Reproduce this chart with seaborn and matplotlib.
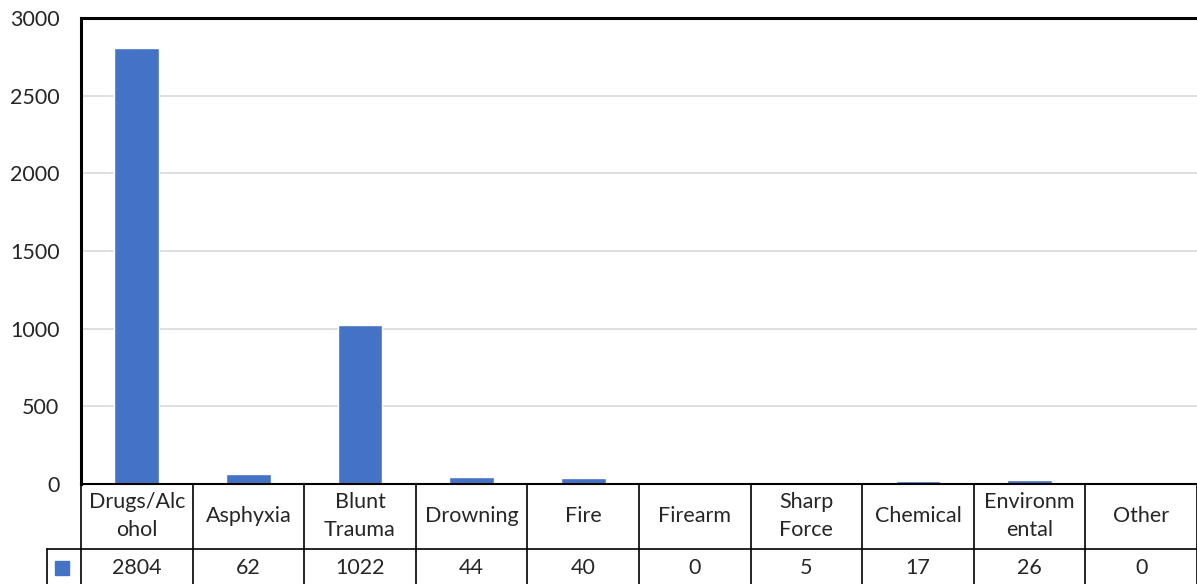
import matplotlib
matplotlib.use("Agg")
import matplotlib.pyplot as plt
import matplotlib.transforms as mtransforms
import pandas as pd
import seaborn as sns

categories = ["Drugs/Alcohol", "Asphyxia", "Blunt Trauma", "Drowning", "Fire",
              "Firearm", "Sharp Force", "Chemical", "Environmental", "Other"]
header_labels = ["Drugs/Alc\nohol", "Asphyxia", "Blunt\nTrauma", "Drowning",
                 "Fire", "Firearm", "Sharp\nForce", "Chemical",
                 "Environm\nental", "Other"]
counts = [2804, 62, 1022, 44, 40, 0, 5, 17, 26, 0]
y_ticks = [0, 500, 1000, 1500, 2000, 2500, 3000]

BLUE = "#4472C4"
FS = 15.5

sns.set_style("white")
plt.rcParams["font.family"] = ["Lato", "DejaVu Sans"]


def main():
    df = pd.DataFrame({"cause": categories, "count": counts})

    fig = plt.figure(figsize=(11.97, 5.84), dpi=100)
    ax = fig.add_axes([81 / 1197, 1 - 484 / 584, 1 - 81 / 1197, 466 / 584])

    sns.barplot(data=df, x="cause", y="count", color=BLUE, width=0.4,
                saturation=1, ax=ax)

    ax.set_xlim(-0.5, len(categories) - 0.5)
    ax.set_ylim(0, 3000)
    ax.set_yticks(y_ticks)
    ax.tick_params(axis="y", length=0, pad=15.5, labelsize=FS)
    ax.set_xticks([])
    ax.set_xlabel("")
    ax.set_ylabel("")
    ax.yaxis.grid(True, color="#d9d9d9", linewidth=1.2)
    ax.set_axisbelow(True)

    for side in ["left", "top"]:
        ax.spines[side].set_color("black")
        ax.spines[side].set_linewidth(2.2)
    ax.spines["bottom"].set_color("black")
    ax.spines["bottom"].set_linewidth(1.5)
    ax.spines["right"].set_visible(False)

    # data table below the axis
    trans = mtransforms.blended_transform_factory(ax.transData, ax.transAxes)
    hdr_bottom = -65 / 466
    tbl_bottom = -0.3
    line_kw = dict(color="black", linewidth=1.2, clip_on=False)

    for i in range(len(categories) + 1):
        xb = i - 0.5
        ax.plot([xb, xb], [0, tbl_bottom], transform=trans, **line_kw)
    ax.plot([-0.5, len(categories) - 0.5], [hdr_bottom, hdr_bottom],
            transform=trans, **line_kw)

    for i, (lab, val) in enumerate(zip(header_labels, counts)):
        ax.text(i, -32 / 466, lab, transform=trans, ha="center", va="center",
                fontsize=FS, linespacing=1.45, clip_on=False)
        ax.text(i, -84 / 466, str(val), transform=trans, ha="center",
                va="center", fontsize=FS, clip_on=False)

    # legend key cell
    key_left = -34 / 1116
    ax.plot([key_left, 0], [hdr_bottom, hdr_bottom], transform=ax.transAxes,
            **line_kw)
    ax.plot([key_left, key_left], [hdr_bottom, tbl_bottom],
            transform=ax.transAxes, **line_kw)
    ax.plot([-19 / 1116], [-84 / 466], marker="s", markersize=9.5,
            color=BLUE, transform=ax.transAxes, clip_on=False)

    fig.savefig("out.png", dpi=100)


if __name__ == "__main__":
    main()
